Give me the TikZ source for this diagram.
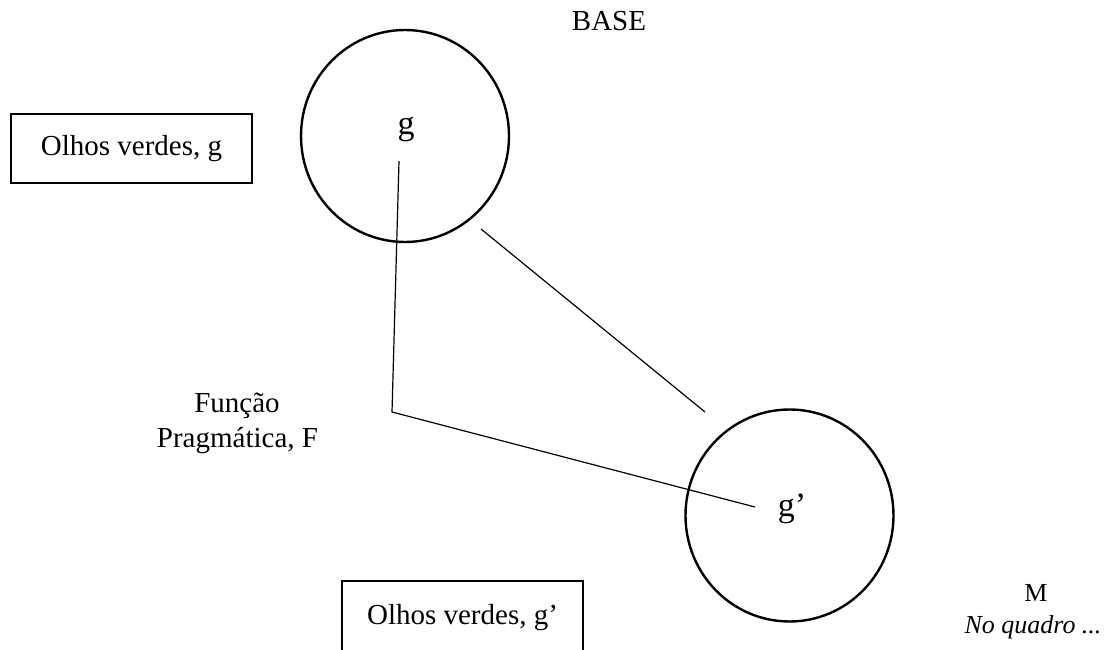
\documentclass[tikz,border=0pt]{standalone}
\usepackage{fontspec}
\setmainfont{Liberation Serif}
\usetikzlibrary{shapes.geometric}
\begin{document}
\begin{tikzpicture}[x=1pt,y=-1pt,
  txt/.style={font=\fontsize{29}{34}\selectfont, inner sep=0pt, anchor=base},
  smalltxt/.style={font=\fontsize{26}{30}\selectfont, inner sep=0pt, anchor=base},
  bigtxt/.style={font=\fontsize{34}{40}\selectfont, inner sep=0pt, anchor=base},
  boxed/.style={draw, line width=1.3pt, font=\fontsize{29}{34}\selectfont, inner sep=0pt, minimum width=241pt},
  blob/.style={draw, ellipse, line width=2.4pt, minimum width=208pt, minimum height=212pt, inner sep=0pt},
  link/.style={line width=1.2pt}]
\useasboundingbox (0,0) rectangle (1109,650);
\clip (0,0) rectangle (1109,650);

% title
\node[txt] (base) at (609,31) {BASE};

% circles
\node[blob] (cg) at (405,136) {};
\node[blob] (cgp) at (789.5,515.5) {};
\node[bigtxt] (g) at (406,135) {g};
\node[bigtxt] (gp) at (792,516.5) {g’};

% boxes
\node[boxed, minimum height=69pt] (box1) at (131.5,148.5) {Olhos verdes, g};
\node[boxed, minimum height=74pt] (box2) at (462.5,618) {Olhos verdes, g’};

% function label
\node[txt] (fun1) at (237,412) {Função};
\node[txt] (fun2) at (237.5,447) {Pragmática, F};

% M label
\node[smalltxt] (m) at (1036,601) {M};
\node[smalltxt, font=\fontsize{26}{30}\selectfont\itshape] (mq) at (1033,633) {No quadro ...};

% connectors
\coordinate (v1) at (399,161);
\coordinate (v2) at (392,412);
\coordinate (e1) at (755,507);
\coordinate (d1) at (481,229);
\coordinate (d2) at (705,412);
\draw[link] (v1) -- (v2) -- (e1);
\draw[link] (d1) -- (d2);
\end{tikzpicture}
\end{document}
